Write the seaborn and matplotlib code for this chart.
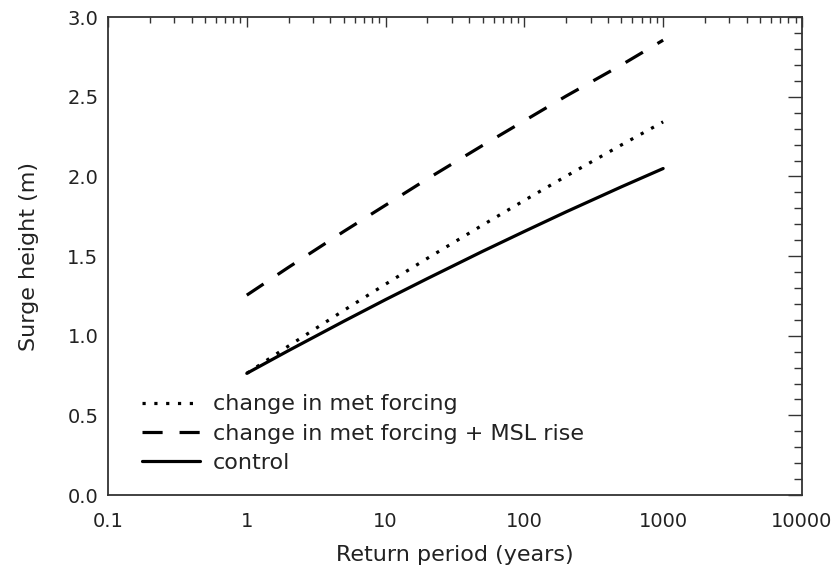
#!/usr/bin/env python3

import matplotlib

matplotlib.use("Agg")
import matplotlib.pyplot as plt
import matplotlib.ticker as mticker
import pandas
import seaborn as sns

# Return periods (years) and surge heights (m)
return_period = [1, 2, 5, 10, 20, 50, 100, 200, 500, 1000]
met_forcing = [0.764, 0.936, 1.159, 1.324, 1.486, 1.695, 1.850, 2.002, 2.198, 2.343]
met_forcing_msl = [1.255, 1.430, 1.655, 1.820, 1.985, 2.195, 2.350, 2.505, 2.700, 2.856]
control = [0.764, 0.907, 1.091, 1.227, 1.359, 1.530, 1.655, 1.778, 1.935, 2.050]

series_names = [
    "change in met forcing",
    "change in met forcing + MSL rise",
    "control",
]
x_ticks = [0.1, 1, 10, 100, 1000, 10000]
x_ticklabels = ["0.1", "1", "10", "100", "1000", "10000"]
y_ticks = [0.0, 0.5, 1.0, 1.5, 2.0, 2.5, 3.0]


def make_frame():
    """
    Build a long-form data frame for seaborn.
    """
    rows = []
    for name, values in zip(series_names, [met_forcing, met_forcing_msl, control]):
        for period, height in zip(return_period, values):
            rows.append([period, height, name])
    return pandas.DataFrame(rows, columns=["return_period", "surge_height", "series"])


def main():
    df = make_frame()

    sns.set_style("white")
    plt.rcParams["font.family"] = ["DejaVu Sans"]
    fig = plt.figure(figsize=(8.31, 5.74), dpi=100)
    ax = fig.add_axes([0.130, 0.1376, 0.835, 0.8324])

    dashes = {
        series_names[0]: (1, 2.7),
        series_names[1]: (6.3, 5.3),
        series_names[2]: "",
    }
    palette = {name: "black" for name in series_names}
    sns.lineplot(
        data=df,
        x="return_period",
        y="surge_height",
        hue="series",
        style="series",
        hue_order=series_names,
        style_order=series_names,
        palette=palette,
        dashes=dashes,
        linewidth=2.3,
        ax=ax,
    )

    ax.set_xscale("log")
    ax.set_xlim(0.1, 10000)
    ax.set_ylim(0, 3.0)
    ax.set_xticks(x_ticks)
    ax.set_xticklabels(x_ticklabels)
    ax.xaxis.set_minor_locator(mticker.LogLocator(base=10, subs=range(2, 10)))
    ax.xaxis.set_minor_formatter(mticker.NullFormatter())
    ax.set_yticks(y_ticks)
    ax.yaxis.set_major_formatter(mticker.FormatStrFormatter("%.1f"))
    ax.yaxis.set_minor_locator(mticker.MultipleLocator(0.1))

    for spine in ax.spines.values():
        spine.set_visible(True)
        spine.set_color("#333333")
        spine.set_linewidth(1.3)

    ax.tick_params(
        which="both", direction="in", top=True, right=True, colors="#333333",
        labelcolor="#222222", labelsize=14,
    )
    ax.tick_params(axis="x", which="major", length=7.5, width=1.0, pad=12)
    ax.tick_params(axis="x", which="minor", length=4, width=1.0)
    ax.tick_params(axis="y", which="major", length=10, width=1.0, pad=7)
    ax.tick_params(axis="y", which="minor", length=5.5, width=1.0)

    ax.set_xlabel("Return period (years)", fontsize=16, color="#222222", labelpad=10)
    ax.set_ylabel("Surge height (m)", fontsize=16, color="#222222", labelpad=20)

    handles, labels = ax.get_legend_handles_labels()
    ax.legend(
        handles,
        labels,
        loc="lower left",
        bbox_to_anchor=(0.02, 0.004),
        frameon=False,
        fontsize=16,
        handlelength=2.6,
        handletextpad=0.6,
        labelspacing=0.42,
        labelcolor="#222222",
    )

    fig.savefig("out.png", dpi=100, facecolor="white")
    plt.close(fig)


if __name__ == "__main__":
    main()
